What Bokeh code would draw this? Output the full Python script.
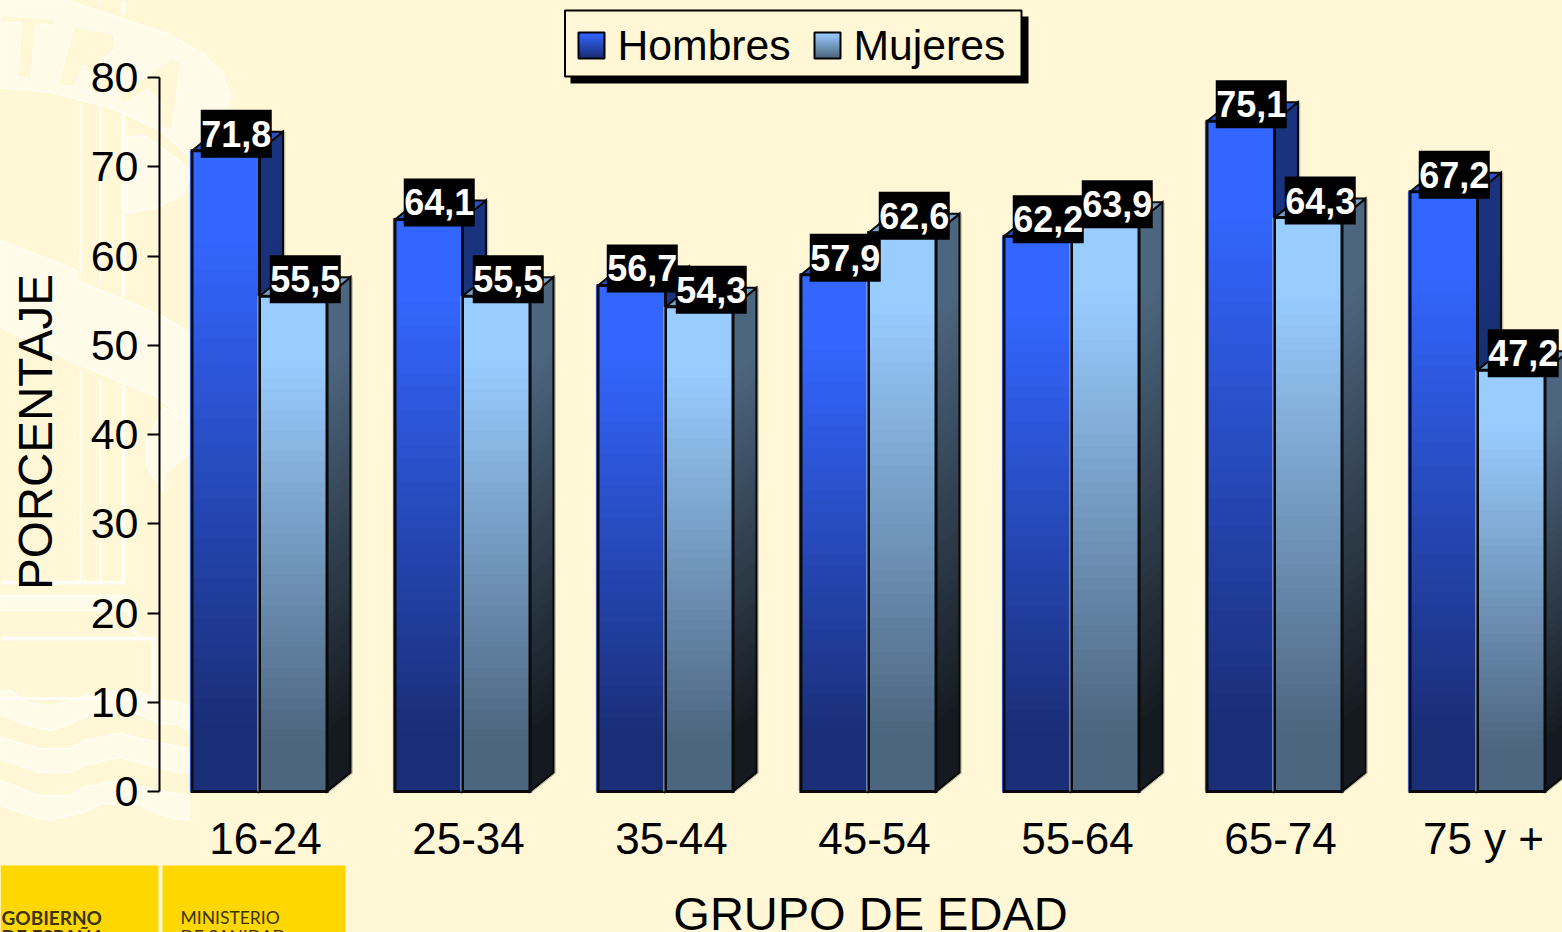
from bokeh.core.properties import value
from bokeh.embed import file_html
from bokeh.models import FixedTicker, GlobalInlineStyleSheet, LinearAxis, Range1d
from bokeh.plotting import figure
from bokeh.resources import INLINE

categories = ["16-24", "25-34", "35-44", "45-54", "55-64", "65-74", "75 y +"]
hombres = [71.8, 64.1, 56.7, 57.9, 62.2, 75.1, 67.2]
mujeres = [55.5, 55.5, 54.3, 62.6, 63.9, 64.3, 47.2]
labels_h = ["71,8", "64,1", "56,7", "57,9", "62,2", "75,1", "67,2"]
labels_m = ["55,5", "55,5", "54,3", "62,6", "63,9", "64,3", "47,2"]
y_ticks = [0, 10, 20, 30, 40, 50, 60, 70, 80]

W, H = 1562, 932
BG = "#FFF7D6"
PALE = "#FFFBE8"
WHITE_LINE = "#FFFEF6"
FONT = value("Liberation Sans")

# pixel geometry of the plotting scale
PX_Y0, PX_PER_UNIT = 791.0, 8.925
PX_X0, PX_PER_GROUP = 265.0, 203.0

p = figure(
    width=W, height=H, output_backend="svg", toolbar_location=None,
    x_axis_location=None, y_axis_location=None,
    x_range=Range1d(-PX_X0 / PX_PER_GROUP, (W - PX_X0) / PX_PER_GROUP),
    y_range=Range1d((PX_Y0 - H) / PX_PER_UNIT, PX_Y0 / PX_PER_UNIT),
    min_border=0, background_fill_color=BG, border_fill_color=BG,
    outline_line_color=None,
)
p.grid.visible = False
p.stylesheets = [GlobalInlineStyleSheet(css=f"html,body{{margin:0;padding:0;overflow:hidden;background:{BG}}}")]
p.extra_x_ranges["px"] = Range1d(0, W)
p.extra_y_ranges["px"] = Range1d(H, 0)
PXR = dict(x_range_name="px", y_range_name="px")


def z5(pts):
    return [v / 3 for v in pts]


# ---- watermark in the background (page pixels) ----
def shape(xs, ys, fill=PALE, line=WHITE_LINE, lw=1.5):
    p.patch(xs, ys, fill_color=fill, line_color=line, line_width=lw, **PXR)


def wave(zu, zl, base):
    xs = [a / 3 for a, _ in zu] + [a / 3 for a, _ in reversed(zl)]
    ys = [base + b / 3 for _, b in zu] + [base + b / 3 for _, b in reversed(zl)]
    shape(xs, ys)


wave([(130, 0), (200, 0), (500, 100), (610, 160), (665, 215), (690, 290), (665, 350), (570, 470)],
     [(0, 0), (0, 262), (150, 275), (340, 325), (480, 390), (570, 470)], 0)
shape(z5([380, 430, 470, 520, 575, 550, 470, 380]), z5([410, 405, 430, 470, 510, 580, 620, 640]))
wave([(0, 720), (230, 810), (230, 840), (480, 945), (575, 1000)],
     [(0, 980), (230, 1090), (470, 1190), (575, 1270)], 0)
wave([(490, 380), (570, 430), (575, 510)], [(440, 480), (440, 560), (490, 635), (490, 580), (575, 510)], 280)
wave([(0, 105), (380, 105), (390, 150)], [(0, 150), (390, 150)], 560)
for zu, zl in [
    ([(0, 390), (30, 390), (80, 425), (150, 435), (220, 420), (250, 405), (350, 390), (410, 390), (470, 420), (530, 425), (565, 435)],
     [(0, 460), (80, 495), (150, 510), (210, 490), (250, 470), (350, 455), (410, 460), (480, 490), (530, 490), (565, 510)]),
    ([(0, 530), (115, 565), (210, 565), (250, 540), (355, 518), (470, 545), (565, 565)],
     [(0, 595), (115, 635), (210, 635), (250, 615), (355, 590), (470, 620), (530, 635), (565, 635)]),
    ([(0, 660), (115, 705), (210, 705), (250, 680), (355, 660), (470, 690), (565, 705)],
     [(0, 735), (120, 775), (150, 778), (250, 755), (300, 730), (410, 730), (470, 760), (530, 775), (565, 778)]),
]:
    wave(zu, zl, 560)

# TRA letters, cut out in the arch
shape(z5([5, 160, 160, 105, 90, 50, 65, 0]), z5([45, 55, 75, 70, 240, 225, 65, 65]), BG, WHITE_LINE, 1)
shape(z5([220, 340, 345, 300, 330, 300, 250, 220, 175]), z5([80, 100, 145, 180, 280, 270, 190, 260, 250]), BG, WHITE_LINE, 1)
shape(z5([515, 540, 515, 480, 485, 440, 370, 350]), z5([175, 185, 390, 375, 310, 265, 310, 290]), BG, WHITE_LINE, 1)

for x, y0, y1, lw in [(80, 103, 273, 2), (100, 107, 285, 2), (123, 112, 296, 4),
                      (80, 370, 582, 2), (100, 378, 582, 2), (123, 385, 582, 4),
                      (100, 0, 5, 2), (123, 0, 13, 4), (153, 638, 697, 4)]:
    p.line([x, x], [y0, y1], line_color=WHITE_LINE, line_width=lw, **PXR)
for y, x0, x1, lw in [(582, 0, 125, 4), (638, 0, 155, 4), (698, 0, 155, 3)]:
    p.line([x0, x1], [y, y], line_color=WHITE_LINE, line_width=lw, **PXR)
p.line([127, 133, 140], [610, 630, 638], line_color=WHITE_LINE, line_width=3, **PXR)

# ---- logo blocks ----
p.quad(left=[0, 162], right=[158, 345], top=[865, 865], bottom=[H, H], fill_color="#FFD700", line_color=None, **PXR)
for tx, ty, tt, fs in [(1, 917, "GOBIERNO", "19px"), (1, 936, "DE ESPAÑA", "19px"),
                       (180, 917, "MINISTERIO", "17.5px"), (180, 936, "DE SANIDAD", "17.5px")]:
    p.text([tx], [ty], text=[tt], text_font=value("Lato"), text_font_style="bold" if tx == 1 else "normal",
           text_font_size=fs, text_color="#3A3410", text_baseline="middle", **PXR)

# ---- 3D bars ----
BAR_W = 67.5 / PX_PER_GROUP
DX, DY = 23.5 / PX_PER_GROUP, 19 / PX_PER_UNIT
ONE_X = 1 / PX_PER_GROUP
SHIFT = -6 / PX_PER_GROUP
STEPS = 48
FLAT_TOP, FLAT_BOTTOM = 0.12, 0.88


def lerp(c0, c1, t):
    a = [int(c0[i:i + 2], 16) for i in (1, 3, 5)]
    b = [int(c1[i:i + 2], 16) for i in (1, 3, 5)]
    return "#%02X%02X%02X" % tuple(round(u + (v - u) * t) for u, v in zip(a, b))


def ramp(t):
    return min(1.0, max(0.0, (t - FLAT_TOP) / (FLAT_BOTTOM - FLAT_TOP)))


def bar3d(left, val, front, side, top_col, edge):
    right = left + BAR_W
    # nested shapes, painted from the full height down to avoid seams
    xs, ys, cols = [], [], []
    fl, fr, fb, ft, fc = [], [], [], [], []
    for k in range(STEPS):
        t = k / STEPS
        yk = val * (1 - t)
        xs.append([right, right + DX, right + DX, right])
        ys.append([yk, yk + DY, DY, 0])
        cols.append(lerp(side[0], side[1], ramp(t)))
        fl.append(left); fr.append(right); ft.append(yk); fb.append(0)
        fc.append(lerp(front[0], front[1], ramp(t)))
    p.patches(xs, ys, fill_color=cols, line_color=None)
    p.line([right + DX + 1.8 * ONE_X, right + DX + 1.8 * ONE_X, right + 1.5 * ONE_X],
           [val + DY, DY - 0.1, -0.1], line_color="#BDBDA8", line_width=1)
    p.patch([right, right + DX, right + DX, right], [val, val + DY, DY, 0],
            fill_color=None, line_color="#0A0A0A", line_width=2.2, line_join="miter")
    p.patch([left, left + DX, right + DX, right], [val, val + DY, val + DY, val],
            fill_color=top_col, line_color="#0A0A0A", line_width=2)
    p.quad(left=fl, right=fr, top=ft, bottom=fb, fill_color=fc, line_color=None)
    p.quad(left=[left], right=[right], top=[val], bottom=[0], fill_color=None,
           line_color="#0A0A0A", line_width=3, line_join="miter")
    p.line([left - 1.6 * ONE_X, left - 1.6 * ONE_X], [val, 0], line_color=edge, line_width=1)


H_FRONT, H_SIDE, H_TOP = ("#3366FF", "#1A2E78"), ("#1A337F", "#0D1A40"), "#2A4FC8"
M_FRONT, M_SIDE, M_TOP = ("#99CCFF", "#4D6680"), ("#4D6680", "#151A20"), "#7AA3CC"

for i, (h, m) in enumerate(zip(hombres, mujeres)):
    mid = i + SHIFT
    bar3d(mid - BAR_W, h, H_FRONT, H_SIDE, H_TOP, "#2A4FC8")
    bar3d(mid, m, M_FRONT, M_SIDE, M_TOP, "#9DB8DC")

# ---- value labels ----
BOX_W, BOX_H = 71 / PX_PER_GROUP, 48 / PX_PER_UNIT
UP = 17 / PX_PER_UNIT
OFF_H, OFF_M = 10.5 / PX_PER_GROUP, 12 / PX_PER_GROUP
lx, ly, lt = [], [], []
for i, (h, m, a, b) in enumerate(zip(hombres, mujeres, labels_h, labels_m)):
    mid = i + SHIFT
    lx += [mid - BAR_W / 2 + OFF_H, mid + BAR_W / 2 + OFF_M]
    ly += [h + UP, m + UP]
    lt += [a, b]
p.rect(lx, ly, width=BOX_W, height=BOX_H, fill_color="#000000", line_color=None)
p.text(lx, ly, text=lt, text_color="#FFFFFF", text_font=FONT, text_font_style="bold", text_font_size="36px",
       text_align="center", text_baseline="middle")

# ---- axes ----
yaxis = LinearAxis(fixed_location=(159 - PX_X0) / PX_PER_GROUP, ticker=FixedTicker(ticks=y_ticks), bounds=(0, 80))
yaxis.axis_line_color = "#000000"
yaxis.axis_line_width = 2
yaxis.major_tick_line_color = "#000000"
yaxis.major_tick_line_width = 2
yaxis.major_tick_in = 0
yaxis.major_tick_out = 12
yaxis.minor_tick_line_color = None
yaxis.major_label_standoff = 9
yaxis.major_label_text_font = "Liberation Sans"
yaxis.major_label_text_font_size = "43px"
yaxis.major_label_text_color = "#000000"
p.add_layout(yaxis, "left")

xaxis = LinearAxis(fixed_location=0, ticker=FixedTicker(ticks=list(range(len(categories)))),
                   major_label_overrides={i: c for i, c in enumerate(categories)})
xaxis.axis_line_color = None
xaxis.major_tick_line_color = None
xaxis.minor_tick_line_color = None
xaxis.major_label_standoff = 16
xaxis.major_label_text_font = "Liberation Sans"
xaxis.major_label_text_font_size = "44px"
xaxis.major_label_text_color = "#000000"
p.add_layout(xaxis, "below")

p.text([35], [431.5], text=["PORCENTAJE"], angle=1.5708, text_font=FONT, text_font_size="47.5px", text_color="#000000",
       text_align="center", text_baseline="middle", **PXR)
p.text([870], [913], text=["GRUPO DE EDAD"], text_font=FONT, text_font_size="47px", text_color="#000000",
       text_align="center", text_baseline="middle", **PXR)

# ---- legend ----
p.quad(left=[570], right=[1028], top=[16], bottom=[83], fill_color="#000000", line_color=None, **PXR)
p.quad(left=[564.5], right=[1021], top=[10], bottom=[76], fill_color=BG, line_color="#000000", line_width=2, **PXR)
for sx, cols in [(578, H_FRONT), (814, M_FRONT)]:
    n = 13
    p.quad(left=[sx] * n, right=[sx + 26] * n, top=[32 + 2 * k for k in range(n)], bottom=[58] * n,
           fill_color=[lerp(cols[0], cols[1], k / (n - 1)) for k in range(n)], line_color=None, **PXR)
    p.quad(left=[sx], right=[sx + 26], top=[32], bottom=[58], fill_color=None, line_color="#000000", line_width=2, **PXR)
p.text([617, 853], [44.5, 44.5], text=["Hombres", "Mujeres"], text_font=FONT, text_font_size="42.7px", text_color="#000000",
       text_baseline="middle", **PXR)

open("out.html", "w").write(file_html(p, INLINE))
